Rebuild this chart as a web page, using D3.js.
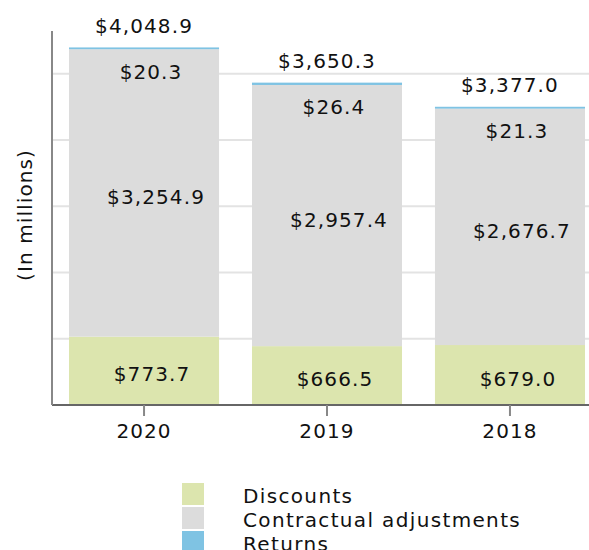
<!DOCTYPE html>
<html>
<head>
<meta charset="utf-8">
<script src="https://cdn.jsdelivr.net/npm/d3@7"></script>
<style>
  body { margin: 0; background: #fff; }
  text { font-family: "DejaVu Sans", sans-serif; font-size: 20px; letter-spacing: 1.1px; fill: #111; }
  .legend text { letter-spacing: 1.35px; }
</style>
</head>
<body>
<script>
// Data (in millions)
const years = ["2020", "2019", "2018"];
const discounts = [773.7, 666.5, 679.0];
const contractual = [3254.9, 2957.4, 2676.7];
const returns = [20.3, 26.4, 21.3];
const totals = [4048.9, 3650.3, 3377.0];
const seriesNames = ["Discounts", "Contractual adjustments", "Returns"];
const gridValues = [750, 1500, 2250, 3000, 3750];

const colours = ["#dce5ae", "#dcdcdc", "#7fc3e3"];
const width = 589, height = 550;

const svg = d3.select("body").append("svg")
  .attr("width", width)
  .attr("height", height);

// scales
const x = d3.scaleBand()
  .domain(years)
  .range([52, 602])
  .paddingInner(0.18)
  .paddingOuter(0.093);
const y = d3.scaleLinear()
  .domain([0, 4235])
  .range([405, 31]);

// gridlines
svg.append("g")
  .selectAll("line")
  .data(gridValues)
  .join("line")
  .attr("x1", 52).attr("x2", width)
  .attr("y1", d => y(d)).attr("y2", d => y(d))
  .attr("stroke", "#e3e3e3")
  .attr("stroke-width", 2);

// stack the three series
const rows = years.map((yr, i) => ({
  year: yr,
  Discounts: discounts[i],
  "Contractual adjustments": contractual[i],
  Returns: returns[i]
}));
const stack = d3.stack().keys(seriesNames)(rows);

svg.append("g")
  .selectAll("g")
  .data(stack)
  .join("g")
  .attr("fill", (d, i) => colours[i])
  .selectAll("rect")
  .data(d => d)
  .join("rect")
  .attr("x", d => x(d.data.year))
  .attr("width", x.bandwidth())
  .attr("y", d => y(d[1]))
  .attr("height", d => y(d[0]) - y(d[1]));

// axes
const xAxis = svg.append("g")
  .attr("transform", "translate(0,405)")
  .call(d3.axisBottom(x).tickSize(11).tickPadding(8).tickSizeOuter(0));
xAxis.select(".domain").attr("stroke", "#666").attr("stroke-width", 2)
  .attr("d", `M52,0H${width}`);
xAxis.selectAll(".tick line").attr("stroke", "#888").attr("stroke-width", 2);
xAxis.selectAll(".tick text")
  .style("font-size", "20px")
  .style("font-family", "DejaVu Sans, sans-serif")
  .attr("fill", "#111");

svg.append("line")
  .attr("x1", 52).attr("x2", 52)
  .attr("y1", 31).attr("y2", 405)
  .attr("stroke", "#888")
  .attr("stroke-width", 2);

svg.append("text")
  .attr("transform", "translate(32,215) rotate(-90)")
  .attr("text-anchor", "middle")
  .text("(In millions)");

const fmt = d3.format("$,.1f");
const cx = d => x(d) + x.bandwidth() / 2;

// total labels
svg.append("g").selectAll("text")
  .data(years)
  .join("text")
  .attr("x", d => cx(d))
  .attr("y", (d, i) => y(totals[i]) - 14.5)
  .attr("text-anchor", "middle")
  .text((d, i) => fmt(totals[i]));

// returns labels
svg.append("g").selectAll("text")
  .data(years)
  .join("text")
  .attr("x", d => cx(d) + 7)
  .attr("y", (d, i) => y(totals[i]) + 31.5)
  .attr("text-anchor", "middle")
  .text((d, i) => fmt(returns[i]));

// contractual labels
svg.append("g").selectAll("text")
  .data(stack[1])
  .join("text")
  .attr("x", d => cx(d.data.year) + 12)
  .attr("y", d => (y(d[0]) + y(d[1])) / 2 + 11)
  .attr("text-anchor", "middle")
  .text(d => fmt(d[1] - d[0]));

// discount labels
svg.append("g").selectAll("text")
  .data(stack[0])
  .join("text")
  .attr("x", d => cx(d.data.year) + 8)
  .attr("y", d => (y(d[0]) + y(d[1])) / 2 + 10.5)
  .attr("text-anchor", "middle")
  .text(d => fmt(d[1] - d[0]));

// legend
const legend = svg.append("g")
  .attr("class", "legend")
  .selectAll("g")
  .data(seriesNames)
  .join("g")
  .attr("transform", (d, i) => `translate(182,${483 + i * 24})`);
legend.append("rect")
  .attr("width", 22).attr("height", 22)
  .attr("fill", (d, i) => colours[i]);
legend.append("text")
  .attr("x", 61).attr("y", 20)
  .text(d => d);
</script>
</body>
</html>
